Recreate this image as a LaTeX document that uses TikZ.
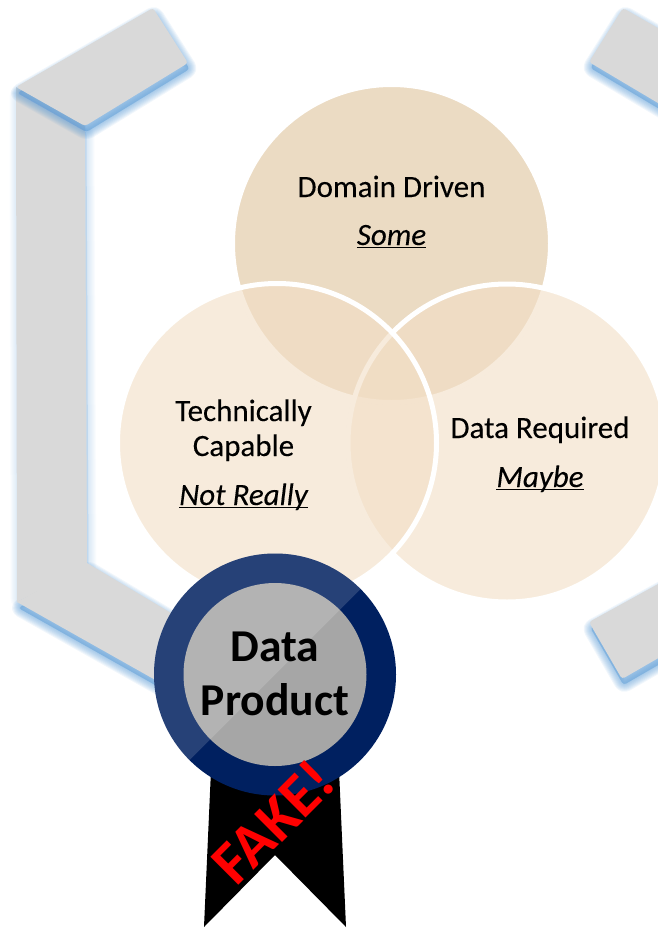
\documentclass[tikz,border=0pt]{standalone}
\usepackage{fontspec}
\setmainfont{Carlito}
\definecolor{limbgrey}{HTML}{D9D9D9}
\definecolor{limbshadow}{HTML}{5B9BD5}
\definecolor{topcircle}{HTML}{EBDBC3}
\definecolor{sidecircle}{HTML}{F2DEC5}
\definecolor{badgenavy}{HTML}{002060}
\definecolor{badgegrey}{HTML}{A6A6A6}
\newcommand{\ulit}[1]{\setbox0=\hbox{\itshape #1}\rlap{\rule[-3.4pt]{\wd0}{1.4pt}}\box0}
\tikzset{
  limbfill/.style={fill=limbgrey,draw=none,rounded corners=3pt},
  shadowlayer/.style={fill=limbshadow,draw=limbshadow,line join=round,xshift=1.5pt,yshift=-6pt,rounded corners=3pt},
  ringcircle/.style={draw=white,line width=5pt,fill opacity=.6,draw opacity=1},
  maintext/.style={font=\fontsize{31}{31}\selectfont\addfontfeature{FakeBold=0.15},anchor=base,inner sep=0pt},
  badgetext/.style={font=\fontsize{45.6}{45.6}\selectfont\bfseries,anchor=base,inner sep=0pt},
  faketext/.style={font=\fontsize{61}{61}\selectfont\bfseries,text=red,rotate=45,inner sep=0pt}
}
\newcommand{\softshadow}[2]{%
  \foreach \w in {16,14,12,10,8,6,4,2}{\draw[shadowlayer,opacity=#1,line width=\w pt] #2;}%
}
\begin{document}
\begin{tikzpicture}[x=1pt,y=-1pt]
\useasboundingbox (0,0) rectangle (658,929);
\clip (0,0) rectangle (658,929);
% left bracket
\softshadow{.085}{(17,602) -- (87,563) -- (230,648) -- (230,722) -- cycle}
\softshadow{.03}{(16,87) -- (85,126) -- (87,563) -- (17,596) -- cycle}
\fill[limbgrey] (17,602) -- (87,563) -- (230,648) -- (230,722) -- cycle;
\fill[limbgrey] (16,87) -- (85,126) -- (87,565) -- (17,602) -- cycle;
\softshadow{.085}{(16,87) -- (153,8) -- (188,63) -- (85,126) -- cycle}
\fill[limbfill] (16,87) -- (153,8) -- (188,63) -- (85,126) -- cycle;
% right bracket
\softshadow{.085}{(589,62) -- (623,8) -- (700,52) -- (700,128) -- cycle}
\fill[limbfill] (589,62) -- (623,8) -- (700,52) -- (700,128) -- cycle;
\softshadow{.085}{(589,622) -- (622,679) -- (700,634) -- (700,561) -- cycle}
\fill[limbfill] (589,622) -- (622,679) -- (700,634) -- (700,561) -- cycle;
% venn circles
\draw[draw=white,line width=5pt,fill=topcircle] (391.5,243.5) circle (159);
\draw[ringcircle,fill=sidecircle] (507,443) circle (159);
\draw[ringcircle,fill=sidecircle] (277,443) circle (159.5);
% venn labels
\node[maintext] (domain) at (391.5,197) {Domain Driven};
\node[maintext] (some) at (391.5,245) {\ulit{Some}};
\node[maintext] (tech) at (243.5,421) {Technically};
\node[maintext] (capable) at (243.5,456) {Capable};
\node[maintext] (notreally) at (243.5,505) {\ulit{Not Really}};
\node[maintext] (required) at (540,438) {Data Required};
\node[maintext] (maybe) at (540,487) {\ulit{Maybe}};
% ribbon
\fill[black] (211,770) -- (204,927) -- (275,855) -- (346,927) -- (339,770) -- cycle;
% badge
\fill[badgenavy] (275,674.5) circle (121);
\fill[badgegrey] (275,674.5) circle (91.5);
\begin{scope}
  \clip (75,874.5) -- (475,474.5) -- (75,474.5) -- cycle;
  \fill[white,opacity=.15] (275,674.5) circle (121);
\end{scope}
\node[badgetext] (data) at (275,661) {Data};
\node[badgetext] (product) at (275,715) {Product};
\node[faketext] (fake) at (273,822) {FAKE!};
\end{tikzpicture}
\end{document}
